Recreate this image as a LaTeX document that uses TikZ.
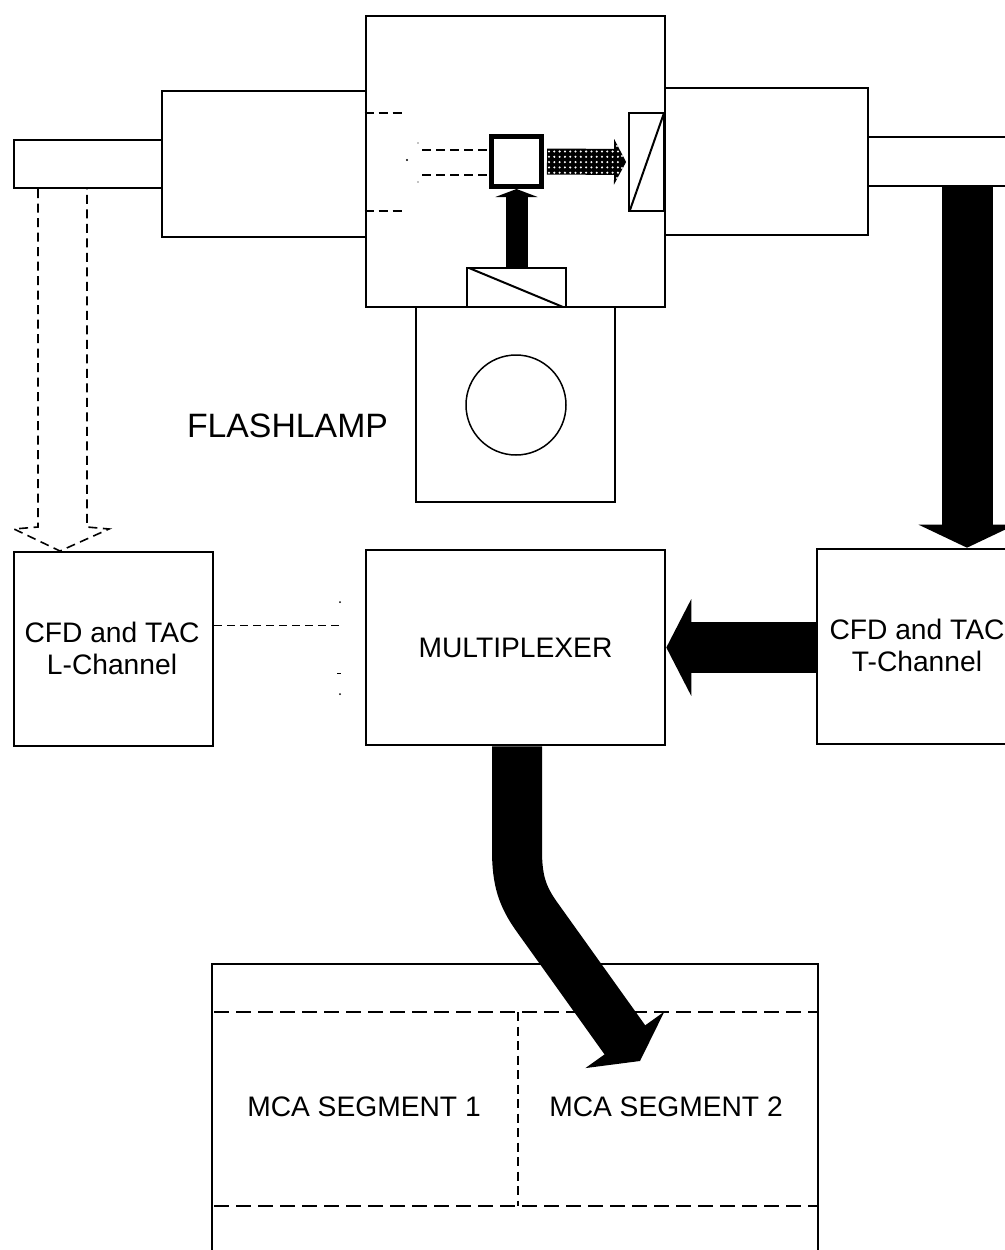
\documentclass[tikz,border=0pt]{standalone}
\usepackage{fontspec}
\setmainfont{Liberation Sans}
\usetikzlibrary{arrows.meta}
\tikzset{
  x=1pt,y=-1pt,
  box/.style={draw=black,line width=2.6pt,inner sep=0pt,fill=white},
  thin box/.style={draw=black,line width=1.6pt,inner sep=0pt,fill=white},
  lab/.style={font=\fontsize{28.2}{32}\selectfont,align=center,inner sep=0pt},
  blockarrow/.style={draw=black,line width=#1},
  dashline/.style={line width=1.6pt,dash pattern=on 9pt off 5.5pt},
  longdash/.style={line width=2pt,dash pattern=on 15pt off 7pt},
  speck/.style={fill=black},
}
\begin{document}
\begin{tikzpicture}
\useasboundingbox (0,0) rectangle (1004,1250);
% optical bench
\node[box,minimum width=148pt,minimum height=48pt] (tubeL) at (88,164) {};
\node[box,minimum width=204pt,minimum height=146pt] (holdL) at (264,164) {};
\node[box,minimum width=198pt,minimum height=49pt] (tubeR) at (967,161.5) {};
\node[box,minimum width=203pt,minimum height=147pt] (holdR) at (766.5,161.5) {};
\node[box,minimum width=299pt,minimum height=291pt] (sample) at (515.5,161.5) {};
\node[thin box,minimum width=199pt,minimum height=195pt] (lamp) at (515.5,404.5) {};
\node[box,circle,fill=none,line width=1.5pt,minimum size=100pt] (bulb) at (516,405) {};
\node[lab,font=\fontsize{33.8}{36}\selectfont] (flash) at (287.5,426) {FLASHLAMP};
% polarisers and cuvette
\node[box,minimum width=99pt,minimum height=39pt] (polB) at (516.5,287.5) {};
\draw[line width=2pt] (469,268) -- (563,307);
\node[box,line width=1.8pt,minimum width=35pt,minimum height=98pt] (polR) at (646.5,162) {};
\draw[line width=2pt] (630,210) -- (664,113);
\node[box,line width=5pt,minimum width=50pt,minimum height=50pt] (cube) at (516.5,161.5) {};
% electronics
\node[box,minimum width=199pt,minimum height=194pt,lab] (cfdL) at (113.5,649) {};
\node[lab] (cfdLtext) at (112,648) {CFD and TAC\\L-Channel};
\node[box,minimum width=299pt,minimum height=195pt,lab] (mux) at (515.5,647.5) {MULTIPLEXER};
\node[box,minimum width=300pt,minimum height=195pt] (cfdT) at (967,646.5) {};
\node[lab] (cfdTtext) at (917,645.5) {CFD and TAC\\T-Channel};
\node[box,minimum width=606pt,minimum height=336pt] (mca) at (515,1132) {};
\node[lab] (seg1) at (364,1107) {MCA SEGMENT 1};
\node[lab] (seg2) at (666,1107) {MCA SEGMENT 2};
% MCA dashes
\coordinate (mcaA1) at (214,1012); \coordinate (mcaA2) at (818,1012);
\coordinate (mcaB1) at (214,1206); \coordinate (mcaB2) at (818,1206);
\coordinate (mcaV1) at (518,1012); \coordinate (mcaV2) at (518,1206);
\draw[longdash] (mcaA1) -- (mcaA2);
\draw[longdash] (mcaB1) -- (mcaB2);
\draw[dashline] (mcaV1) -- (mcaV2);
% L-channel dashed arrow
\coordinate (dl1) at (38,189); \coordinate (dl2) at (38,527); \coordinate (dl3) at (14,529);
\coordinate (dl4) at (60,551); \coordinate (dl5) at (109,529); \coordinate (dl6) at (87,527);
\coordinate (dl7) at (87,189);
\draw[dashline] (dl1) -- (dl2) -- (dl3) -- (dl4) -- (dl5) -- (dl6) -- (dl7);
% L-channel to multiplexer, faded dashed
\coordinate (lm) at (340,625);
\draw[line width=1pt,dash pattern=on 8pt off 5pt] (cfdL.east |- lm) -- (lm);
\fill[speck] (340,602) circle (1pt) (340,694) circle (1pt);
\draw[line width=.8pt] (337,673.5) -- (341,673.5);
% L path in sample box, faded dashed
\coordinate (sa) at (406,113); \coordinate (sb) at (406,211);
\coordinate (sc) at (422,150); \coordinate (sd) at (422,175);
\draw[line width=1.1pt,dash pattern=on 9pt off 5pt] (sample.west |- sa) -- (sa);
\draw[line width=1.1pt,dash pattern=on 9pt off 5pt] (sample.west |- sb) -- (sb);
\draw[line width=1.1pt,dash pattern=on 9pt off 5pt] (sc) -- (sc -| cube.west);
\draw[line width=1.1pt,dash pattern=on 9pt off 5pt] (sd) -- (sd -| cube.west);
\fill[speck] (407,160) circle (1.1pt) (418,143) circle (.7pt) (418,182) circle (.7pt);
% thick arrows
\draw[blockarrow=51pt,-{Triangle[length=23pt,width=96pt]}] (tubeR.south) -- (cfdT.north);
\draw[blockarrow=51pt,-{Triangle[length=25pt,width=96pt]}] (cfdT.west |- mux.east) -- (mux.east);
\draw[blockarrow=22pt,-{Triangle[length=8pt,width=42pt]}] (polB.north) -- (cube.south);
\coordinate (bend1) at (517,850);
\coordinate (bend2) at (537,917);
\draw[blockarrow=50pt,-{Triangle[length=26pt,width=96pt]}]
  (mux.south -| bend1) -- (bend1) .. controls (517,880) and (522,896) .. (bend2) -- (640,1061);
% dotted arrow cuvette to polariser
\draw[blockarrow=26pt,shorten <=3pt,shorten >=2pt,-{Triangle[length=12pt,width=45pt]}] (cube.east) -- (polR.west);
\foreach \yy in {151.5,156.8,162.1,167.4,172.7}{
  \foreach \xx in {549,554.3,...,620}{
    \fill[white] (\xx,\yy) circle (1.15pt);
  }
}
\foreach \xx/\yy in {617/146,617/178,622/156,622/168}{\fill[white] (\xx,\yy) circle (1.1pt);}
\end{tikzpicture}
\end{document}
